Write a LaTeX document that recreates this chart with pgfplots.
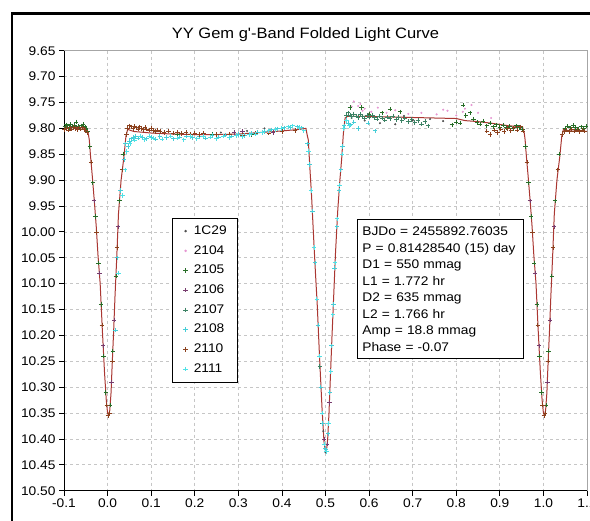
\documentclass[border=0pt]{standalone}
\usepackage{pgfplots}
\pgfplotsset{compat=1.18}
\usepackage{fontspec}
\setmainfont{Liberation Sans}[FakeStretch=1.1]
\newfontfamily\plainsans{Liberation Sans}[FakeStretch=1.1]
\newcommand\tickfont{\fontsize{12.5bp}{15bp}\selectfont}
\newcommand\boxfont{\fontsize{12.5bp}{16.5bp}\selectfont}
\newcommand\titlefont{\plainsans\fontsize{15bp}{18bp}\selectfont}
\definecolor{model}{RGB}{170,55,50}
\definecolor{c1C29}{RGB}{80,80,80}
\definecolor{c2104}{RGB}{230,150,210}
\definecolor{c2105}{RGB}{40,110,40}
\definecolor{c2106}{RGB}{120,60,110}
\definecolor{c2107}{RGB}{60,130,100}
\definecolor{c2108}{RGB}{70,205,215}
\definecolor{c2110}{RGB}{140,65,30}
\definecolor{c2111}{RGB}{80,225,230}
\begin{document}
\begin{tikzpicture}
\useasboundingbox (0bp,0bp) rectangle (590bp,521bp);
\clip (0bp,0bp) rectangle (590bp,521bp);
\fill[white] (0bp,0bp) rectangle (590bp,521bp);
\draw[line width=2.3bp] (12.2bp,-20bp) rectangle (620bp,507.5bp);
\node[font=\titlefont, anchor=base] at (305.5bp,482.7bp) {YY Gem g'-Band Folded Light Curve};
\begin{axis}[
  at={(64bp,30.3bp)}, anchor=south west,
  width=523bp, height=440bp, scale only axis,
  xmin=-0.1, xmax=1.1, ymin=9.65, ymax=10.5, y dir=reverse,
  xtick={-0.1,0,0.1,0.2,0.3,0.4,0.5,0.6,0.7,0.8,0.9,1.0,1.1},
  ytick={9.65,9.70,9.75,9.80,9.85,9.90,9.95,10.00,10.05,10.10,10.15,10.20,10.25,10.30,10.35,10.40,10.45,10.50},
  xticklabel style={/pgf/number format/.cd, fixed, fixed zerofill, precision=1},
  yticklabel style={/pgf/number format/.cd, fixed, fixed zerofill, precision=2},
  /pgf/number format/assume math mode=true,
  tick label style={font=\tickfont},
  axis line style={draw=gray!70, line width=0.8bp},
  xtick pos=left, ytick pos=left,
  tick align=outside, major tick length=5bp, tick style={black, line width=0.8bp},
  grid=major, major grid style={draw=gray!45, dash pattern=on 3bp off 3bp, line width=0.7bp},
  legend cell align=left,
  legend image code/.code={\draw[mark repeat=2,mark phase=2,#1] plot coordinates {(0bp,0.3bp)(5bp,0.3bp)(10bp,0.3bp)};},
  legend style={at={(axis description cs:0.2065,0.6198)}, anchor=north west, draw=black, line width=0.8bp, fill=white, font=\tickfont, inner xsep=11bp, inner ysep=7bp, row sep=7.7bp, nodes={inner sep=0pt, text height=9bp, text depth=3bp},
    /tikz/every odd column/.append style={column sep=6bp}},
]
\addplot[model, line width=1bp, no marks, forget plot] coordinates {
(-0.100,9.799) (-0.080,9.798) (-0.060,9.799) (-0.048,9.800) (-0.044,9.812) (-0.042,9.822) (-0.039,9.855) (-0.035,9.893) (-0.030,9.945) (-0.026,9.990) (-0.022,10.045) (-0.017,10.100) (-0.012,10.190) (-0.007,10.272) (-0.003,10.325) (0.000,10.350) (0.002,10.354) (0.005,10.345) (0.008,10.310) (0.010,10.267) (0.014,10.190) (0.017,10.125) (0.021,10.050) (0.025,9.965) (0.031,9.900) (0.0375,9.855) (0.042,9.816) (0.046,9.802) (0.060,9.806) (0.100,9.809) (0.150,9.811) (0.200,9.812) (0.250,9.812) (0.300,9.811) (0.350,9.808) (0.400,9.805) (0.440,9.802) (0.455,9.800) (0.4585,9.815) (0.4605,9.822) (0.4644,9.880) (0.468,9.930) (0.473,10.015) (0.477,10.080) (0.481,10.140) (0.4865,10.245) (0.492,10.340) (0.4965,10.405) (0.500,10.424) (0.502,10.424) (0.505,10.400) (0.508,10.350) (0.511,10.285) (0.515,10.200) (0.519,10.120) (0.523,10.040) (0.528,9.960) (0.533,9.900) (0.537,9.860) (0.541,9.810) (0.545,9.780) (0.550,9.777) (0.600,9.777) (0.650,9.778) (0.700,9.779) (0.750,9.780) (0.800,9.781) (0.820,9.785) (0.850,9.787) (0.880,9.790) (0.920,9.795) (0.952,9.797) (0.956,9.809) (0.958,9.822) (0.961,9.855) (0.965,9.893) (0.970,9.945) (0.974,9.990) (0.978,10.045) (0.983,10.100) (0.988,10.190) (0.993,10.272) (0.997,10.325) (1.000,10.350) (1.002,10.354) (1.005,10.345) (1.008,10.310) (1.010,10.267) (1.014,10.190) (1.017,10.125) (1.021,10.050) (1.025,9.965) (1.031,9.900) (1.0375,9.855) (1.042,9.816) (1.046,9.802) (1.060,9.805) (1.100,9.806)
};
\addplot[c1C29, only marks, mark=*, mark size=0.8bp] coordinates {
(0.22,9.810) (0.26,9.808) (0.32,9.805) (0.36,9.800) (0.495,10.385) (0.500,10.426) (0.56,9.780) (0.59,9.785) (0.625,9.790) (0.66,9.792) (0.70,9.785) (0.74,9.782) (0.77,9.786) (0.60,9.772) (0.68,9.776)
};
\addlegendentry{1C29}
\addplot[c2104, only marks, mark=*, mark size=0.8bp] coordinates {
(0.560,9.758) (0.565,9.748) (0.575,9.757) (0.580,9.753) (0.585,9.766) (0.590,9.762) (0.605,9.768) (0.620,9.760) (0.640,9.770) (0.660,9.765) (0.690,9.772) (0.720,9.770) (0.755,9.773) (0.770,9.764) (0.780,9.766) (0.800,9.775) (0.815,9.768) (0.820,9.762) (0.835,9.755) (0.850,9.770) (0.880,9.780) (0.930,9.800)
};
\addlegendentry{2104}
\addplot[c2105, only marks, mark=+, mark size=2.2bp, line width=0.7bp] coordinates {
(-0.098,9.797) (-0.095,9.793) (-0.092,9.795) (-0.088,9.798) (-0.085,9.792) (-0.080,9.796) (-0.076,9.794) (-0.072,9.788) (-0.068,9.796) (-0.064,9.799) (-0.060,9.795) (-0.056,9.792) (-0.052,9.797) (-0.049,9.800) (-0.046,9.805)
(-0.041,9.835) (-0.034,9.905) (-0.028,9.970) (-0.021,10.060) (-0.015,10.140) (-0.009,10.240) (-0.004,10.310) (0.006,10.335) (0.012,10.230) (0.019,10.085) (0.027,9.940) (0.036,9.850)
(0.160,9.812) (0.240,9.811) (0.330,9.812)
(0.556,9.760) (0.583,9.760) (0.648,9.763) (0.671,9.768) (0.600,9.772) (0.630,9.770)
(0.790,9.793) (0.800,9.788) (0.809,9.790) (0.816,9.755) (0.822,9.775) (0.832,9.770) (0.840,9.782) (0.848,9.789) (0.855,9.792) (0.862,9.786) (0.870,9.795) (0.878,9.790) (0.885,9.797) (0.892,9.793) (0.900,9.798) (0.908,9.794) (0.915,9.799) (0.922,9.796) (0.930,9.800) (0.938,9.795) (0.945,9.798) (0.952,9.802)
(0.959,9.835) (0.966,9.905) (0.972,9.970) (0.979,10.060) (0.985,10.140) (0.991,10.240) (0.996,10.310) (1.006,10.335) (1.012,10.230) (1.019,10.085) (1.027,9.940) (1.036,9.850)
(1.050,9.800) (1.056,9.796) (1.062,9.799) (1.068,9.794) (1.074,9.798) (1.080,9.801) (1.086,9.797) (1.092,9.800) (1.098,9.796)
};
\addlegendentry{2105}
\addplot[c2106, only marks, mark=+, mark size=2.2bp, line width=0.7bp] coordinates {
(-0.031,9.940) (-0.019,10.080) (-0.010,10.220) (0.009,10.290) (0.015,10.170) (0.024,9.990) (0.200,9.809) (0.290,9.808) (0.300,9.811) (0.310,9.806) (0.380,9.808) (0.497,10.400) (0.504,10.410) (0.509,10.330) (0.969,9.940) (0.981,10.080) (0.990,10.220) (1.009,10.290) (1.015,10.170) (1.024,9.990)
};
\addlegendentry{2106}
\addplot[c2107, only marks, mark=+, mark size=2.2bp, line width=0.7bp] coordinates {
(0.487,10.260) (0.493,10.370)
(0.548,9.775) (0.552,9.770) (0.556,9.774) (0.560,9.777) (0.565,9.772) (0.570,9.776) (0.575,9.779) (0.580,9.773) (0.585,9.777) (0.590,9.780) (0.595,9.775) (0.600,9.778) (0.607,9.774) (0.612,9.779) (0.618,9.782) (0.624,9.776) (0.630,9.780) (0.636,9.784) (0.642,9.778) (0.648,9.781) (0.655,9.776) (0.662,9.783) (0.668,9.779) (0.675,9.785) (0.682,9.780) (0.690,9.787) (0.698,9.783) (0.705,9.789) (0.712,9.785) (0.720,9.792) (0.728,9.787) (0.735,9.795)
};
\addlegendentry{2107}
\addplot[c2108, only marks, mark=+, mark size=2.2bp, line width=0.9bp] coordinates {
(0.0186,10.190) (0.022,10.050) (0.030,9.920) (0.038,9.860) (0.041,9.830)
(0.047,9.835) (0.050,9.825) (0.055,9.820) (0.060,9.818) (0.065,9.816) (0.070,9.819) (0.080,9.817) (0.090,9.820) (0.100,9.818) (0.110,9.821) (0.120,9.816) (0.135,9.818) (0.150,9.820) (0.165,9.817) (0.180,9.815) (0.195,9.818) (0.210,9.816) (0.225,9.819) (0.240,9.814) (0.255,9.817) (0.270,9.813) (0.285,9.815) (0.300,9.812) (0.315,9.814) (0.330,9.810) (0.345,9.808) (0.360,9.806) (0.375,9.803) (0.390,9.801) (0.405,9.799) (0.420,9.798) (0.435,9.797) (0.445,9.799)
(0.459,9.830) (0.463,9.870) (0.470,9.960) (0.476,10.060) (0.483,10.180) (0.489,10.300) (0.494,10.370) (0.499,10.418) (0.501,10.420) (0.506,10.390) (0.510,10.310) (0.514,10.220) (0.518,10.140) (0.521,10.070) (0.526,9.990) (0.531,9.920) (0.535,9.880) (0.539,9.835) (0.543,9.795)
(0.552,9.790) (0.558,9.793) (0.565,9.788) (0.575,9.800) (0.598,9.790) (0.614,9.805)
};
\addlegendentry{2108}
\addplot[c2110, only marks, mark=+, mark size=2.2bp, line width=0.7bp] coordinates {
(-0.099,9.802) (-0.094,9.800) (-0.090,9.803) (-0.086,9.799) (-0.082,9.801) (-0.078,9.798) (-0.074,9.800) (-0.070,9.802) (-0.066,9.799) (-0.062,9.801) (-0.058,9.799) (-0.054,9.802) (-0.050,9.803) (-0.047,9.808)
(-0.038,9.865) (-0.025,10.000) (-0.013,10.180) (-0.002,10.335) (0.001,10.355) (0.004,10.350) (0.011,10.250) (0.022,10.030) (0.033,9.880) (0.043,9.812)
(0.046,9.800) (0.050,9.795) (0.054,9.797) (0.058,9.800) (0.062,9.796) (0.066,9.799) (0.070,9.801) (0.074,9.797) (0.078,9.800) (0.082,9.802) (0.086,9.798) (0.090,9.801) (0.095,9.803) (0.100,9.800) (0.105,9.804) (0.110,9.806) (0.115,9.803) (0.120,9.806) (0.130,9.808) (0.140,9.805) (0.150,9.809) (0.160,9.807) (0.170,9.810) (0.180,9.808) (0.190,9.811) (0.200,9.809) (0.210,9.812) (0.220,9.810) (0.250,9.812) (0.280,9.811) (0.310,9.813) (0.340,9.810) (0.370,9.809) (0.400,9.806) (0.430,9.804)
(0.870,9.805) (0.878,9.812) (0.888,9.803) (0.895,9.808) (0.902,9.801) (0.910,9.806) (0.918,9.800) (0.925,9.804) (0.932,9.799) (0.940,9.803) (0.947,9.797) (0.953,9.805)
(0.962,9.865) (0.975,10.000) (0.987,10.180) (0.998,10.335) (1.001,10.355) (1.004,10.350) (1.011,10.250) (1.022,10.030) (1.033,9.880) (1.043,9.812)
(1.048,9.806) (1.053,9.803) (1.059,9.806) (1.065,9.802) (1.071,9.805) (1.077,9.803) (1.083,9.806) (1.089,9.803) (1.095,9.805)
};
\addlegendentry{2110}
\addplot[c2111, only marks, mark=+, mark size=2.2bp, line width=0.9bp] coordinates {
(0.0246,10.080) (0.034,9.930) (0.040,9.880) (0.044,9.845)
(0.052,9.830) (0.062,9.823) (0.075,9.815) (0.085,9.822) (0.095,9.815) (0.105,9.819) (0.125,9.821) (0.145,9.815) (0.160,9.819) (0.175,9.822) (0.190,9.816) (0.205,9.820) (0.220,9.815) (0.235,9.817) (0.250,9.820) (0.265,9.815) (0.280,9.818) (0.295,9.814) (0.310,9.816) (0.325,9.812) (0.340,9.811) (0.355,9.808) (0.370,9.805) (0.385,9.802) (0.400,9.800) (0.415,9.797) (0.425,9.795) (0.440,9.798) (0.450,9.805)
(0.461,9.845) (0.467,9.920) (0.474,10.030) (0.480,10.130) (0.486,10.240) (0.492,10.350) (0.497,10.410) (0.502,10.425) (0.507,10.370) (0.512,10.270) (0.517,10.160) (0.522,10.060) (0.527,9.975) (0.532,9.910) (0.538,9.850) (0.542,9.800) (0.548,9.785) (0.555,9.795)
};
\addlegendentry{2111}
\draw[black, line width=0.9bp] (axis description cs:0,1) -- (axis description cs:0,0) -- (axis description cs:1,0);
\end{axis}
\node[draw=black, line width=0.8bp, fill=white, anchor=north west, inner xsep=5bp, inner ysep=7.5bp, align=left, font=\boxfont, text width=156bp] at (357bp,302bp) {BJDo = 2455892.76035\\P = 0.81428540 (15) day\\D1 = 550 mmag\\L1 = 1.772 hr\\D2 = 635 mmag\\L2 = 1.766 hr\\Amp = 18.8 mmag\\Phase = -0.07};
\end{tikzpicture}
\end{document}
